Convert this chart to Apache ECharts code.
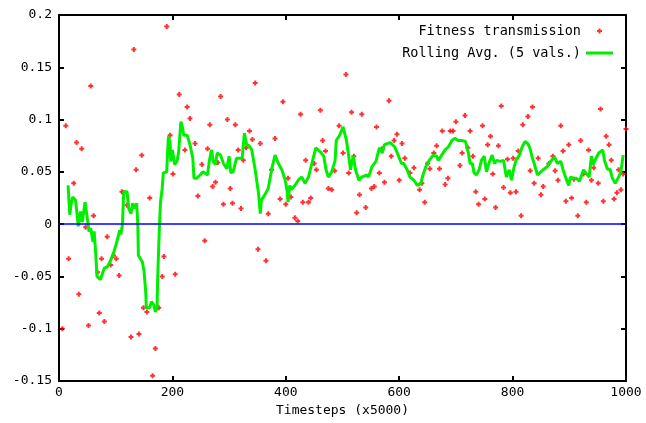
<!DOCTYPE html>
<html>
<head>
<meta charset="utf-8">
<script src="https://cdn.jsdelivr.net/npm/echarts@6/dist/echarts.min.js"></script>
<style>
  html, body { margin: 0; padding: 0; background: #fff; }
  #chart { width: 646px; height: 423px; }
</style>
</head>
<body>
<div id="chart"></div>
<script>
// raw points (timestep, fitness transmission)
const fitnessSteps = [6, 12, 17, 26, 31, 35, 40, 47, 52, 56, 61, 68, 71, 75, 80, 85, 91, 96, 101, 106,
  111, 114, 120, 127, 132, 136, 141, 146, 149, 155, 160, 165, 170, 176, 182, 185, 190, 196, 201, 205,
  212, 222, 226, 231, 240, 245, 252, 257, 262, 266, 271, 276, 280, 285, 290, 297, 302, 306, 311, 316,
  321, 325, 330, 336, 341, 346, 351, 355, 365, 369, 375, 381, 390, 395, 400, 404, 409, 416, 421, 426,
  430, 435, 440, 444, 450, 454, 461, 465, 470, 475, 481, 486, 494, 501, 506, 511, 516, 520, 525, 530,
  534, 541, 551, 556, 560, 565, 570, 574, 582, 586, 591, 596, 600, 605, 610, 619, 626, 636, 640, 645,
  650, 654, 661, 666, 671, 676, 681, 686, 690, 695, 700, 707, 711, 716, 721, 725, 730, 735, 740, 747,
  751, 756, 761, 765, 770, 775, 780, 784, 791, 796, 801, 806, 810, 815, 818, 827, 831, 835, 838, 845,
  850, 854, 864, 871, 875, 880, 885, 889, 894, 899, 904, 908, 915, 920, 925, 930, 934, 939, 943, 951,
  955, 960, 965, 970, 974, 979, 984, 987, 991, 995, 1000];
const fitnessValues = [-0.100, 0.094, -0.033, 0.039, 0.078, -0.067, 0.072, -0.003, -0.097, 0.132,
  0.008, -0.046, -0.085, -0.033, -0.093, -0.012, -0.039, -0.030, -0.033, -0.049,
  0.031, 0.030, 0.018, -0.108, 0.167, 0.052, -0.105, 0.066, -0.080, -0.084,
  0.025, -0.145, -0.119, -0.080, -0.050, -0.031, 0.189, 0.085, 0.048, -0.048,
  0.124, 0.071, 0.112, 0.101, 0.077, 0.027, 0.057, -0.016, 0.072, 0.095,
  0.036, 0.040, 0.059, 0.122, 0.019, 0.100, 0.034, 0.020, 0.095, 0.071,
  0.015, 0.061, 0.073, 0.089, 0.081, 0.135, -0.024, 0.077, -0.035, 0.010,
  0.052, 0.082, 0.024, 0.117, 0.019, 0.044, 0.026, 0.006, 0.003, 0.105,
  0.021, 0.061, 0.021, 0.025, 0.058, 0.052, 0.109, 0.080, 0.070, 0.034,
  0.033, 0.051, 0.094, 0.068, 0.143, 0.049, 0.107, 0.065, 0.011, 0.028,
  0.105, 0.016, 0.034, 0.036, 0.093, 0.049, 0.072, 0.040, 0.118, 0.065,
  0.080, 0.086, 0.042, 0.077, 0.063, 0.049, 0.054, 0.033, 0.039, 0.021,
  0.058, 0.053, 0.068, 0.075, 0.053, 0.089, 0.038, 0.044, 0.089, 0.089,
  0.098, 0.056, 0.068, 0.104, 0.073, 0.089, 0.065, 0.031, 0.019, 0.094,
  0.024, 0.076, 0.084, 0.048, 0.016, 0.075, 0.113, 0.035, 0.062, 0.030,
  0.063, 0.031, 0.070, 0.008, 0.095, 0.103, 0.051, 0.112, 0.039, 0.063,
  0.028, 0.036, 0.058, 0.065, 0.051, 0.042, 0.094, 0.070, 0.022, 0.076,
  0.025, 0.043, 0.008, 0.080, 0.048, 0.021, 0.071, 0.042, 0.054, 0.039,
  0.110, 0.022, 0.084, 0.076, 0.061, 0.024, 0.030, 0.052, 0.033, 0.048, 0.091];

// rolling average over 5 values
const avgSteps = [16, 19, 21, 24, 29, 32, 34, 38, 41, 46, 49, 53, 56, 60, 62, 65, 67, 73, 76, 80,
  85, 90, 96, 102, 107, 109, 112, 114, 120, 123, 127, 130, 134, 137, 139, 140, 147, 150, 153, 154,
  160, 163, 167, 170, 173, 174, 177, 179, 182, 184, 190, 191, 193, 196, 197, 200, 204, 208, 211, 215,
  218, 220, 226, 231, 236, 238, 243, 249, 254, 262, 265, 269, 272, 276, 279, 285, 290, 296, 300, 303,
  307, 313, 323, 327, 331, 335, 340, 346, 352, 355, 357, 363, 369, 375, 381, 387, 393, 399, 402, 404,
  407, 410, 416, 422, 428, 434, 440, 446, 453, 461, 467, 471, 475, 481, 487, 489, 495, 501, 507, 512,
  514, 519, 523, 529, 534, 543, 546, 552, 559, 565, 570, 574, 584, 592, 599, 604, 608, 614, 619, 626,
  632, 638, 642, 647, 653, 660, 666, 669, 675, 681, 687, 693, 698, 704, 710, 717, 722, 725, 729, 732,
  736, 741, 745, 750, 754, 758, 764, 768, 772, 778, 784, 789, 794, 798, 802, 806, 812, 817, 822, 827,
  831, 834, 838, 844, 848, 854, 861, 867, 874, 879, 885, 889, 894, 899, 902, 907, 912, 918, 925, 929,
  935, 939, 942, 947, 952, 959, 962, 967, 972, 976, 981, 986, 991, 995];
const avgValues = [0.037, 0.009, 0.018, 0.026, 0.023, 0.009, -0.002, 0.012, 0.002, 0.021,
  0.009, -0.007, -0.004, -0.017, -0.007, -0.030, -0.050, -0.053, -0.052, -0.042,
  -0.041, -0.036, -0.028, -0.017, -0.006, -0.010, 0.000, 0.031, 0.031, 0.015,
  0.010, 0.020, 0.015, 0.020, 0.000, -0.030, -0.036, -0.045, -0.065, -0.080,
  -0.080, -0.074, -0.077, -0.084, -0.080, -0.052, -0.004, 0.021, 0.034, 0.049,
  0.050, 0.063, 0.084, 0.078, 0.060, 0.071, 0.057, 0.060, 0.069, 0.098,
  0.092, 0.085, 0.085, 0.076, 0.063, 0.044, 0.044, 0.047, 0.050, 0.047,
  0.060, 0.071, 0.060, 0.057, 0.068, 0.066, 0.058, 0.053, 0.065, 0.049,
  0.050, 0.063, 0.063, 0.087, 0.076, 0.075, 0.071, 0.052, 0.029, 0.010,
  0.023, 0.028, 0.034, 0.052, 0.066, 0.058, 0.052, 0.042, 0.033, 0.021,
  0.037, 0.033, 0.037, 0.042, 0.045, 0.039, 0.045, 0.058, 0.073, 0.069,
  0.065, 0.052, 0.045, 0.050, 0.061, 0.080, 0.085, 0.093, 0.080, 0.061,
  0.052, 0.065, 0.052, 0.042, 0.045, 0.047, 0.045, 0.055, 0.060, 0.073,
  0.068, 0.076, 0.078, 0.074, 0.065, 0.058, 0.058, 0.052, 0.045, 0.042,
  0.037, 0.039, 0.047, 0.055, 0.061, 0.066, 0.065, 0.061, 0.066, 0.071,
  0.074, 0.080, 0.082, 0.080, 0.080, 0.079, 0.068, 0.058, 0.058, 0.049,
  0.047, 0.052, 0.061, 0.065, 0.050, 0.058, 0.066, 0.058, 0.061, 0.060,
  0.061, 0.045, 0.052, 0.042, 0.053, 0.061, 0.066, 0.074, 0.079, 0.077,
  0.072, 0.065, 0.058, 0.047, 0.049, 0.052, 0.055, 0.060, 0.064, 0.058,
  0.060, 0.052, 0.044, 0.037, 0.045, 0.044, 0.044, 0.041, 0.052, 0.049,
  0.045, 0.065, 0.057, 0.063, 0.068, 0.071, 0.061, 0.053, 0.052, 0.044,
  0.039, 0.044, 0.050, 0.066];

const xTicks = { min: 0, max: 1000, step: 200 };
const yTicks = { min: -0.15, max: 0.2, step: 0.05 };

const plusIcon = 'path://M1.5,0H3.5V1.5H5V3.5H3.5V5H1.5V3.5H0V1.5H1.5Z';
const lineIcon = 'path://M0,0H27V3H0Z';
const font = 'DejaVu Sans Mono';

const chart = echarts.init(document.getElementById('chart'));

const frameAxis = {
  axisLine: { show: true, onZero: false, lineStyle: { color: '#000', width: 2 } },
  axisTick: { show: true, inside: true, length: 5, lineStyle: { color: '#000', width: 2 } },
  splitLine: { show: false }
};

chart.setOption({
  animation: false,
  backgroundColor: '#fff',
  grid: { left: 59, right: 20, top: 15, bottom: 42 },
  legend: {
    orient: 'vertical',
    right: 33,
    top: 24,
    padding: 0,
    align: 'right',
    itemWidth: 27,
    itemHeight: 5,
    itemGap: 8,
    symbolKeepAspect: true,
    textStyle: { fontFamily: font, fontSize: 13.5, color: '#000', lineHeight: 14 },
    data: [
      { name: 'Fitness transmission', icon: plusIcon },
      { name: 'Rolling Avg. (5 vals.)', icon: lineIcon }
    ]
  },
  xAxis: [
    Object.assign({}, frameAxis, {
      type: 'value',
      position: 'bottom',
      min: xTicks.min, max: xTicks.max, interval: xTicks.step,
      name: 'Timesteps (x5000)',
      nameLocation: 'middle',
      nameGap: 22,
      nameTextStyle: { fontFamily: font, fontSize: 13, color: '#000' },
      axisLabel: { margin: 5, fontFamily: font, fontSize: 13, color: '#000', formatter: v => String(v) }
    }),
    Object.assign({}, frameAxis, {
      type: 'value',
      position: 'top',
      min: xTicks.min, max: xTicks.max, interval: xTicks.step,
      axisLabel: { show: false }
    })
  ],
  yAxis: [
    Object.assign({}, frameAxis, {
      type: 'value',
      position: 'left',
      min: yTicks.min, max: yTicks.max, interval: yTicks.step,
      axisLabel: {
        margin: 7, fontFamily: font, fontSize: 13, color: '#000',
        formatter: v => String(+v.toFixed(2))
      }
    }),
    Object.assign({}, frameAxis, {
      type: 'value',
      position: 'right',
      min: yTicks.min, max: yTicks.max, interval: yTicks.step,
      axisLabel: { show: false }
    })
  ],
  series: [
    {
      name: 'Fitness transmission',
      type: 'scatter',
      symbol: plusIcon,
      symbolSize: 5,
      itemStyle: { color: '#ff0000' },
      data: fitnessSteps.map((x, i) => [x, fitnessValues[i]]),
      z: 3
    },
    {
      name: 'Rolling Avg. (5 vals.)',
      type: 'line',
      showSymbol: false,
      lineStyle: { color: '#00ee00', width: 3 },
      itemStyle: { color: '#00ee00' },
      data: avgSteps.map((x, i) => [x, avgValues[i]]),
      z: 4,
      markLine: {
        silent: true,
        symbol: 'none',
        label: { show: false },
        lineStyle: { color: '#0000ff', type: 'solid', width: 1.5 },
        data: [{ yAxis: 0 }]
      }
    }
  ]
});
</script>
</body>
</html>
